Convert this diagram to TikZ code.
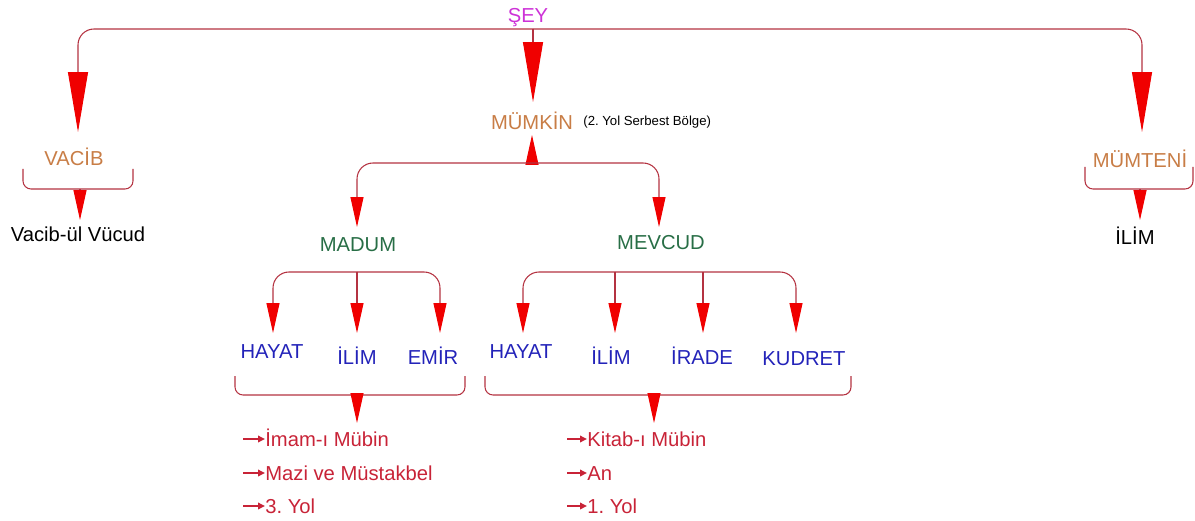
\documentclass[tikz,border=0pt]{standalone}
\usepackage{fontspec}
\setmainfont{Liberation Sans}
\usetikzlibrary{arrows.meta}
\definecolor{wirered}{RGB}{180,50,65}
\definecolor{tipred}{RGB}{240,0,0}
\definecolor{seycol}{RGB}{205,50,215}
\definecolor{mumcol}{RGB}{200,125,70}
\definecolor{greencol}{RGB}{40,110,70}
\definecolor{bluecol}{RGB}{35,35,185}
\definecolor{listcol}{RGB}{200,35,55}
\frenchspacing

\begin{document}
\begin{tikzpicture}[x=0.02cm,y=-0.02cm]
\tikzstyle{lbl}=[inner sep=0pt,text height=8.2pt,text depth=0pt,font=\fontsize{11.5}{13}\selectfont]
\tikzstyle{item}=[lbl,anchor=west,text=listcol]
\tikzstyle{wire}=[draw=wirered,line width=0.6pt,rounded corners=0.32cm]
\tikzstyle{brace}=[draw=wirered,line width=0.6pt,rounded corners=0.16cm]
\tikzstyle{bigtip}=[-{Triangle[length=1.2cm,width=0.4cm,color=tipred]}]
\tikzstyle{midtip}=[-{Triangle[length=0.6cm,width=0.26cm,color=tipred]}]
\tikzstyle{bullet}=[draw=listcol,line width=1.3pt,-{Triangle[length=0.14cm,width=0.13cm]}]
\useasboundingbox (0,0) rectangle (1195,520);

\node[lbl,text=seycol,font=\fontsize{11.5}{13}\selectfont] (sey) at (528,15) {ŞEY};
\coordinate (seyfork) at (533,29);
\coordinate (vacibtip) at (78,132);
\coordinate (mumkintip) at (533,102);
\coordinate (mumtenitip) at (1142,132);
\draw[wire,bigtip] (seyfork) -| (vacibtip);
\draw[wire,bigtip] (seyfork) -| (mumtenitip);
\draw[wire,bigtip] (seyfork) -- (mumkintip);

\node[lbl,text=mumcol] (vacib) at (74,158) {VACİB};
\draw[brace] (23,169) |- (133,189) -- (133,169);
\coordinate (vacibbr) at (80,189);
\coordinate (vacibbrtip) at (80,220);
\draw[wire,midtip] (vacibbr) -- (vacibbrtip);
\node[lbl] (vucud) at (78,234) {Vacib-ül Vücud};

\node[lbl,text=mumcol] (mumteni) at (1140,160) {MÜMTENİ};
\draw[brace] (1085,167) |- (1193,189) -- (1193,167);
\coordinate (mumtenibr) at (1140,189);
\coordinate (mumtenibrtip) at (1140,220);
\draw[wire,midtip] (mumtenibr) -- (mumtenibrtip);
\node[lbl] (ilim) at (1135,237) {İLİM};

\node[lbl,text=mumcol] (mumkin) at (532,122) {MÜMKİN};
\node[anchor=west,inner sep=0pt,font=\fontsize{7.5}{9}\selectfont] (mumkinnot) at (583,122) {(2. Yol Serbest Bölge)};
\coordinate (mumkinfork) at (532,163);
\coordinate (mumkinup) at (532,135);
\coordinate (maduntip) at (357,227);
\coordinate (mevcudtip) at (659,227);
\draw[wire,midtip] (mumkinfork) -- (mumkinup);
\draw[wire,midtip] (mumkinfork) -| (maduntip);
\draw[wire,midtip] (mumkinfork) -| (mevcudtip);

\node[lbl,text=greencol] (madum) at (358,244) {MADUM};
\node[lbl,text=greencol] (mevcud) at (661,242) {MEVCUD};

\coordinate (madumfork) at (357,272);
\coordinate (mhayattip) at (273,333);
\coordinate (milimtip) at (357,333);
\coordinate (memirtip) at (440,333);
\draw[wire,midtip] (madumfork) -| (mhayattip);
\draw[wire,midtip] (madumfork) -- (milimtip);
\draw[wire,midtip] (madumfork) -| (memirtip);
\node[lbl,text=bluecol] (mhayat) at (272,351) {HAYAT};
\node[lbl,text=bluecol] (milim) at (357,357) {İLİM};
\node[lbl,text=bluecol] (memir) at (433,357) {EMİR};

\coordinate (mevcudfork) at (615,272);
\coordinate (viradefork) at (703,272);
\coordinate (vhayattip) at (523,333);
\coordinate (vilimtip) at (615,333);
\coordinate (viradetip) at (703,333);
\coordinate (vkudrettip) at (796,333);
\draw[wire,midtip] (mevcudfork) -| (vhayattip);
\draw[wire,midtip] (mevcudfork) -- (vilimtip);
\draw[wire,midtip] (viradefork) -- (viradetip);
\draw[wire,midtip] (mevcudfork) -| (vkudrettip);
\node[lbl,text=bluecol] (vhayat) at (521,351) {HAYAT};
\node[lbl,text=bluecol] (vilim) at (611,357) {İLİM};
\node[lbl,text=bluecol] (virade) at (702,357) {İRADE};
\node[lbl,text=bluecol] (vkudret) at (804,358) {KUDRET};

\draw[brace] (235,376) |- (465,395) -- (465,376);
\coordinate (madumbr) at (357,395);
\coordinate (madumbrtip) at (357,423);
\draw[wire,midtip] (madumbr) -- (madumbrtip);
\draw[brace] (485,376) |- (851,395) -- (851,376);
\coordinate (mevcudbr) at (654,395);
\coordinate (mevcudbrtip) at (654,423);
\draw[wire,midtip] (mevcudbr) -- (mevcudbrtip);

\node[item] (imam) at (265,439) {İmam-ı Mübin};
\node[item] (mazi) at (265,473) {Mazi ve Müstakbel};
\node[item] (yol3) at (265,506) {3. Yol};
\node[item] (kitab) at (587,439) {Kitab-ı Mübin};
\node[item] (an) at (587,473) {An};
\node[item] (yol1) at (587,506) {1. Yol};
\coordinate (imamb) at (243,439);
\coordinate (mazib) at (243,473);
\coordinate (yol3b) at (243,506);
\coordinate (kitabb) at (567,439);
\coordinate (anb) at (567,473);
\coordinate (yol1b) at (567,506);
\draw[bullet] (imamb) -- (imam.west);
\draw[bullet] (mazib) -- (mazi.west);
\draw[bullet] (yol3b) -- (yol3.west);
\draw[bullet] (kitabb) -- (kitab.west);
\draw[bullet] (anb) -- (an.west);
\draw[bullet] (yol1b) -- (yol1.west);
\end{tikzpicture}
\end{document}
